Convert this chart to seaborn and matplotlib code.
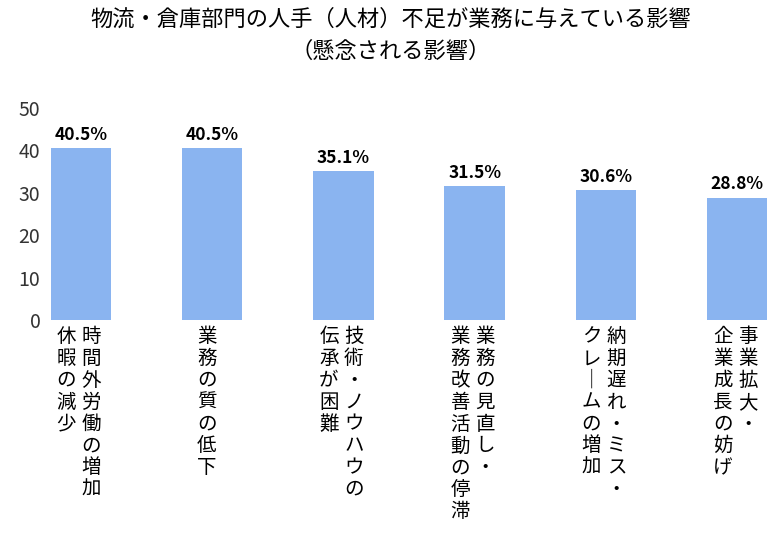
import matplotlib
matplotlib.use("Agg")
import matplotlib.pyplot as plt
import seaborn as sns

categories = ["時間外労働の増加/休暇の減少", "業務の質の低下", "技術・ノウハウの伝承が困難",
              "業務の見直し・業務改善活動の停滞", "納期遅れ・ミス・クレームの増加", "事業拡大・企業成長の妨げ"]
values = [40.5, 40.5, 35.1, 31.5, 30.6, 28.8]
# vertical label columns, right column first
label_columns = [
    ["時間外労働の増加", "休暇の減少"],
    ["業務の質の低下"],
    ["技術・ノウハウの", "伝承が困難"],
    ["業務の見直し・", "業務改善活動の停滞"],
    ["納期遅れ・ミス・", "クレームの増加"],
    ["事業拡大・", "企業成長の妨げ"],
]

plt.rcParams["font.family"] = "Noto Sans CJK JP"
fig = plt.figure(figsize=(7.81, 5.36), dpi=100)
ax = fig.add_axes([0.058, 0.403, 0.928, 0.396])
sns.barplot(x=list(range(len(values))), y=values, color="#8AB4F0", saturation=1, width=0.46, ax=ax)
ax.set_xlim(-0.27, 5.25)
ax.set_ylim(0, 50)
ax.set_yticks(range(0, 51, 10))
ax.tick_params(axis="y", labelsize=14, length=0, colors="#333333")
ax.set_xticks([])
for s in ax.spines.values():
    s.set_visible(False)

for i, v in enumerate(values):
    ax.text(i, v + 1, f"{v}%", ha="center", va="bottom", fontsize=12.5, fontweight="bold")

trans = ax.get_xaxis_transform()
for i, cols in enumerate(label_columns):
    offsets = [0.08, -0.11] if len(cols) == 2 else [-0.04]
    for col, off in zip(cols, offsets):
        txt = "\n".join(col.replace("ー", "｜"))
        ax.text(i + off, -0.03, txt, transform=trans, ha="center", va="top",
                fontsize=14, linespacing=1.05)

fig.text(0.5, 0.965, "物流・倉庫部門の人手（人材）不足が業務に与えている影響", ha="center", va="center", fontsize=16)
fig.text(0.5, 0.905, "（懸念される影響）", ha="center", va="center", fontsize=16)
fig.savefig("out.png", dpi=100)
